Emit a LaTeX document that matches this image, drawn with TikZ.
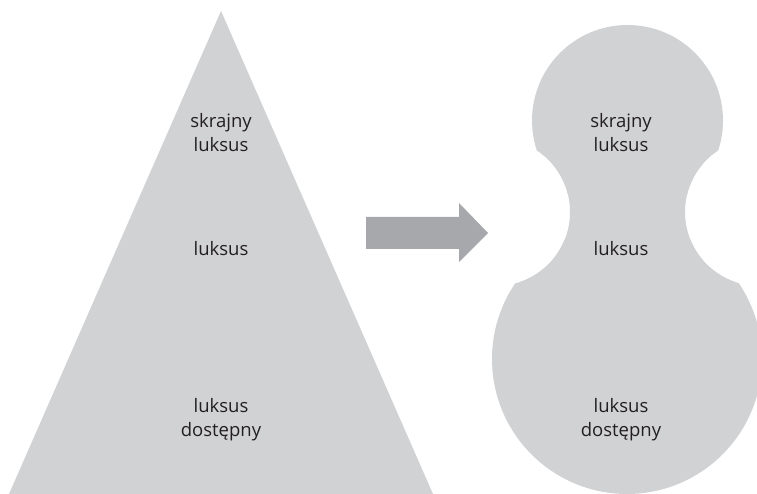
\documentclass[tikz,border=0pt]{standalone}
\usepackage{fontspec}
\setmainfont{Open Sans}
\definecolor{shapegray}{HTML}{D1D2D4}
\definecolor{arrowgray}{HTML}{A7A8AB}
\definecolor{textdark}{HTML}{231F20}
\begin{document}
\begin{tikzpicture}[x=1pt,y=1pt,
  label/.style={align=center,text=textdark,inner sep=0pt,
    font=\fontsize{18.5}{24}\selectfont}]
\useasboundingbox (0,0) rectangle (757,494);

% pyramid
\fill[shapegray] (9,0) -- (221,483) -- (433,0) -- cycle;

% block arrow
\fill[arrowgray] (366,245) -- (459,245) -- (459,232) -- (488,261)
  -- (459,291) -- (459,277) -- (366,277) -- cycle;

% waisted shape: two circles joined, with two round notches cut out
\begin{scope}[even odd rule]
  \clip (0,0) rectangle (757,494)
    (496,282) circle (74) (759,282) circle (74);
  \fill[shapegray] (627.5,373.5) circle (95.5);
  \fill[shapegray] (627,135) circle (135);
  \fill[shapegray] (518,212) rectangle (737,344);
\end{scope}

% labels
\node[label] (l1) at (221,361) {skrajny\\luksus};
\node[label] (l2) at (221,245.5) {luksus};
\node[label] (l3) at (221,74) {luksus\\dostępny};
\node[label] (r1) at (621,361) {skrajny\\luksus};
\node[label] (r2) at (621,245.5) {luksus};
\node[label] (r3) at (621,74) {luksus\\dostępny};
\end{tikzpicture}
\end{document}
